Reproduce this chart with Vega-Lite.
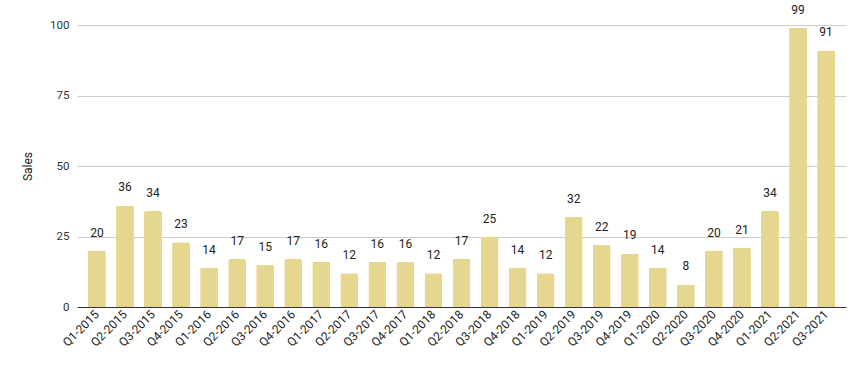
{
  "$schema": "https://vega.github.io/schema/vega-lite/v6.json",
  "width": 769,
  "height": 282,
  "autosize": {"type": "none"},
  "padding": {"left": 77, "top": 25, "right": 18, "bottom": 64},
  "background": "white",
  "config": {"view": {"stroke": null}, "font": "Roboto"},
  "data": {
    "values": [
      {"q": "Q1-2015", "sales": 20}, {"q": "Q2-2015", "sales": 36}, {"q": "Q3-2015", "sales": 34}, {"q": "Q4-2015", "sales": 23},
      {"q": "Q1-2016", "sales": 14}, {"q": "Q2-2016", "sales": 17}, {"q": "Q3-2016", "sales": 15}, {"q": "Q4-2016", "sales": 17},
      {"q": "Q1-2017", "sales": 16}, {"q": "Q2-2017", "sales": 12}, {"q": "Q3-2017", "sales": 16}, {"q": "Q4-2017", "sales": 16},
      {"q": "Q1-2018", "sales": 12}, {"q": "Q2-2018", "sales": 17}, {"q": "Q3-2018", "sales": 25}, {"q": "Q4-2018", "sales": 14},
      {"q": "Q1-2019", "sales": 12}, {"q": "Q2-2019", "sales": 32}, {"q": "Q3-2019", "sales": 22}, {"q": "Q4-2019", "sales": 19},
      {"q": "Q1-2020", "sales": 14}, {"q": "Q2-2020", "sales": 8}, {"q": "Q3-2020", "sales": 20}, {"q": "Q4-2020", "sales": 21},
      {"q": "Q1-2021", "sales": 34}, {"q": "Q2-2021", "sales": 99}, {"q": "Q3-2021", "sales": 91}
    ]
  },
  "encoding": {
    "x": {
      "field": "q", "type": "nominal", "sort": null,
      "scale": {"paddingInner": 0.36, "paddingOuter": 0.39},
      "axis": {
        "title": null, "labelAngle": -45, "labelAlign": "right", "labelBaseline": "middle",
        "labelFontSize": 12, "labelColor": "#222222", "ticks": false, "labelPadding": 5,
        "domain": true, "domainColor": "#333333", "domainWidth": 1.2, "labelFont": "Roboto"
      }
    },
    "y": {
      "field": "sales", "type": "quantitative",
      "scale": {"domain": [0, 100], "nice": false},
      "axis": {
        "title": "Sales", "titleFontWeight": "normal", "titleFontSize": 12, "titleColor": "#222222",
        "titlePadding": 15, "titleFont": "Roboto",
        "values": [0, 25, 50, 75, 100], "labelFontSize": 11.5, "labelColor": "#333333", "labelFont": "Roboto",
        "ticks": false, "labelPadding": 8, "domain": false,
        "gridColor": "#cccccc", "gridWidth": 1
      }
    }
  },
  "layer": [
    {"mark": {"type": "bar", "color": "#e5d78f", "cornerRadiusTopLeft": 2, "cornerRadiusTopRight": 2}},
    {
      "mark": {"type": "text", "baseline": "alphabetic", "dy": -14, "fontSize": 12, "color": "#222222", "font": "Roboto"},
      "encoding": {"text": {"field": "sales", "type": "quantitative"}}
    }
  ]
}
